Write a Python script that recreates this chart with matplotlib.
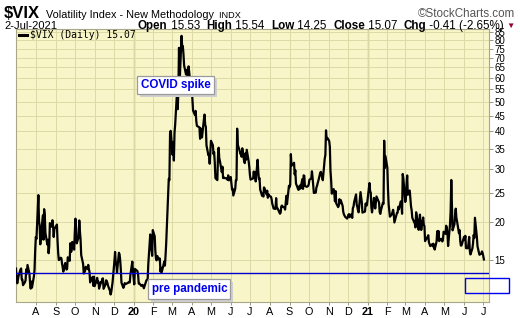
import matplotlib
matplotlib.use('Agg')
import matplotlib.pyplot as plt
from matplotlib.patches import Rectangle
import numpy as np
import pandas as pd

# $VIX daily closes, one list per month (Jul 2019 - Jul 2021)
jul19 = [14.06, 12.93, 12.57, 13.28, 13.96, 14.07, 12.93, 12.93, 12.39, 12.68, 12.86, 13.97, 13.53, 14.45, 13.53, 12.61, 12.07, 12.74, 12.16, 13.24, 13.94, 16.12]
aug19 = [17.87, 17.61, 24.59, 20.17, 19.49, 16.91, 17.97, 21.09, 17.52, 22.10, 21.18, 18.47, 16.88, 17.50, 15.80, 16.68, 19.87, 19.32, 20.31, 19.35, 17.88, 18.98]
sep19 = [19.66, 17.33, 15.82, 15.00, 15.27, 15.20, 14.61, 14.22, 13.74, 14.67, 14.44, 13.95, 14.05, 15.32, 14.91, 17.05, 15.96, 16.07, 17.22, 16.24]
oct19 = [18.56, 20.56, 19.12, 17.04, 17.86, 20.28, 18.64, 17.57, 15.58, 14.57, 13.54, 13.68, 13.79, 14.25, 14.00, 14.46, 14.01, 13.71, 12.65, 13.11, 13.20, 12.33, 13.22]
nov19 = [12.30, 12.83, 13.10, 12.62, 12.73, 12.07, 12.69, 12.68, 13.00, 13.05, 12.05, 12.46, 12.86, 12.78, 12.60, 12.34, 11.87, 11.54, 11.75, 12.62]
dec19 = [14.91, 15.96, 14.80, 14.52, 13.62, 15.86, 15.68, 14.99, 13.94, 12.63, 12.14, 12.29, 12.58, 12.50, 12.51, 12.61, 12.67, 12.65, 13.43, 14.82, 13.78]
jan20 = [12.47, 14.02, 13.85, 13.79, 13.45, 12.54, 12.56, 12.32, 12.39, 12.42, 12.32, 12.10, 12.85, 12.91, 12.98, 14.56, 18.23, 16.28, 16.39, 15.49, 18.84]
feb20 = [17.97, 16.05, 15.15, 14.96, 15.47, 15.04, 15.18, 13.74, 14.15, 13.68, 14.83, 14.38, 15.56, 17.08, 25.03, 27.85, 27.56, 39.16, 40.11]
mar20 = [33.42, 36.82, 31.99, 39.62, 41.94, 54.46, 47.30, 53.90, 75.47, 57.83, 82.69, 75.91, 76.45, 72.00, 66.04, 61.59, 61.67, 63.95, 61.00, 65.54, 57.08, 53.54]
apr20 = [57.06, 50.91, 46.80, 45.24, 46.70, 43.35, 41.67, 41.17, 37.76, 40.84, 40.11, 38.15, 43.83, 45.41, 41.98, 41.38, 35.93, 33.29, 33.57, 31.23, 34.15]
may20 = [37.19, 35.97, 33.61, 34.12, 31.44, 27.98, 27.57, 33.04, 35.28, 32.61, 31.89, 29.30, 30.53, 27.99, 28.16, 28.01, 27.91, 27.62, 28.59, 27.51]
jun20 = [28.23, 26.84, 25.66, 25.81, 24.52, 25.81, 27.57, 27.57, 40.79, 36.09, 34.40, 33.67, 33.47, 32.94, 35.12, 31.77, 31.37, 33.84, 32.22, 34.73, 31.78, 30.43]
jul20 = [28.62, 27.68, 27.94, 29.43, 28.08, 29.26, 27.29, 32.19, 29.52, 27.76, 28.00, 25.68, 24.46, 24.84, 24.32, 26.08, 25.84, 24.74, 25.44, 24.10, 24.76, 24.46]
aug20 = [24.28, 23.76, 22.99, 22.65, 22.21, 22.13, 24.03, 22.28, 22.28, 22.05, 21.35, 21.51, 22.54, 22.72, 22.54, 22.37, 22.03, 23.27, 24.47, 22.96, 26.41]
sep20 = [26.12, 26.57, 33.60, 30.75, 31.46, 28.81, 29.71, 26.87, 25.85, 25.59, 26.04, 26.46, 25.83, 27.78, 25.79, 28.58, 28.51, 26.38, 26.19, 26.27, 26.37]
oct20 = [26.70, 27.63, 27.96, 29.48, 28.06, 26.36, 25.00, 25.07, 26.07, 26.40, 26.97, 27.41, 29.18, 29.35, 28.65, 28.11, 27.55, 32.46, 33.35, 40.28, 37.59, 38.02]
nov20 = [37.13, 35.55, 29.57, 27.58, 24.86, 25.75, 24.80, 23.45, 25.35, 23.10, 22.45, 22.71, 23.84, 23.11, 23.70, 22.66, 21.64, 21.25, 20.84, 20.57]
dec20 = [20.77, 21.17, 21.28, 20.79, 21.30, 20.68, 22.27, 22.52, 23.31, 24.72, 22.89, 22.50, 21.93, 21.57, 25.16, 24.23, 23.31, 21.53, 21.70, 23.08, 22.77, 22.75]
jan21 = [26.97, 25.34, 25.07, 22.37, 21.56, 24.08, 23.33, 22.21, 23.25, 24.34, 23.24, 21.58, 21.32, 21.91, 23.19, 23.02, 37.21, 30.21, 33.09]
feb21 = [30.24, 25.56, 22.91, 21.77, 20.87, 21.24, 21.63, 21.99, 21.25, 19.97, 21.46, 21.50, 22.49, 22.05, 23.45, 23.11, 21.34, 28.89, 27.95]
mar21 = [23.35, 24.10, 26.67, 28.57, 24.66, 25.47, 24.03, 22.56, 21.91, 20.69, 20.03, 19.79, 19.23, 21.58, 20.95, 18.88, 20.30, 21.20, 19.81, 18.86, 20.74, 19.61, 19.40]
apr21 = [17.33, 17.91, 18.12, 17.16, 16.95, 16.69, 16.91, 16.65, 16.99, 16.57, 16.25, 17.29, 18.68, 17.50, 18.71, 17.33, 17.64, 17.56, 17.28, 17.61, 18.61]
may21 = [18.31, 19.48, 19.15, 18.39, 16.69, 19.66, 21.84, 27.59, 23.13, 18.81, 19.72, 21.34, 22.18, 20.67, 20.15, 18.40, 18.84, 17.36, 16.74, 16.76]
jun21 = [17.90, 17.48, 18.04, 16.42, 16.42, 17.07, 17.89, 16.10, 15.65, 16.39, 17.02, 18.15, 17.75, 20.70, 17.89, 16.66, 16.32, 15.97, 15.62, 15.76, 16.02, 15.83]
jul21 = [15.48, 15.07]

months = ['2019-07', '2019-08', '2019-09', '2019-10', '2019-11', '2019-12',
          '2020-01', '2020-02', '2020-03', '2020-04', '2020-05', '2020-06',
          '2020-07', '2020-08', '2020-09', '2020-10', '2020-11', '2020-12',
          '2021-01', '2021-02', '2021-03', '2021-04', '2021-05', '2021-06', '2021-07']
monthly = [jul19, aug19, sep19, oct19, nov19, dec19, jan20, feb20, mar20, apr20, may20, jun20,
           jul20, aug20, sep20, oct20, nov20, dec20, jan21, feb21, mar21, apr21, may21, jun21, jul21]
holidays = ['2019-07-04', '2019-09-02', '2019-11-28', '2019-12-25', '2020-01-01', '2020-01-20',
            '2020-02-17', '2020-04-10', '2020-05-25', '2020-07-03', '2020-09-07', '2020-11-26',
            '2020-12-25', '2021-01-01', '2021-01-18', '2021-02-15', '2021-04-02', '2021-05-31']

y_ticks = [15, 20, 25, 30, 35, 40, 45, 50, 55, 60, 65, 70, 75, 80, 85]
pre_pandemic_level = 13.55

dates, close = [], []
for m, vals in zip(months, monthly):
    start = pd.Timestamp(m + '-01')
    days = [d for d in pd.bdate_range(start, start + pd.offsets.MonthEnd(0))
            if d.strftime('%Y-%m-%d') not in holidays]
    n = min(len(days), len(vals))
    dates += days[:n]
    close += vals[:n]

bg = '#f8f6c8'
grid_c = '#dcdaa6'
year_c = '#b8b68a'

plt.rcParams['font.family'] = ['Liberation Sans', 'DejaVu Sans']

fig = plt.figure(figsize=(5.2, 3.18), dpi=100)
fig.patch.set_facecolor('white')
ax = fig.add_axes([16/520, 16/318, 473/520, 273/318])
ax.set_facecolor(bg)

ax.plot(dates, close, color='black', lw=1.6, zorder=3)
ax.axhline(pre_pandemic_level, color='#0000cc', lw=1.0, zorder=4)

ax.set_yscale('log')
ax.set_ylim(10.9, 87.1)
ax.set_xlim(pd.Timestamp('2019-07-01'), pd.Timestamp('2021-07-10'))

ax.yaxis.tick_right()
ax.set_yticks(y_ticks)
ax.set_yticklabels([str(t) for t in y_ticks])
ax.yaxis.set_minor_locator(matplotlib.ticker.NullLocator())
ax.tick_params(axis='y', which='major', length=3, width=0.6, color='#888866', pad=1, labelsize=7.0)

month_ticks = pd.date_range('2019-08-01', '2021-07-01', freq='MS')
ax.set_xticks(month_ticks)
ax.set_xticklabels([d.strftime('%y') if d.month == 1 else d.strftime('%b')[0] for d in month_ticks])
ax.tick_params(axis='x', length=2, width=0.6, color='#888866', pad=1.5, labelsize=7.8)
for lab in ax.get_xticklabels():
    if lab.get_text() in ('20', '21'):
        lab.set_fontweight('bold')

ax.grid(True, color=grid_c, lw=0.7, zorder=1)
for yr in ['2020-01-01', '2021-01-01']:
    ax.axvline(pd.Timestamp(yr), color=year_c, lw=1.0, zorder=1)
for sp in ax.spines.values():
    sp.set_color('#a8a888')
    sp.set_linewidth(0.8)

# legend line
ax.plot([0.006, 0.024], [0.978, 0.978], transform=ax.transAxes, color='black', lw=2.2, zorder=5)
ax.text(0.029, 0.978, '$VIX (Daily) 15.07', transform=ax.transAxes, fontsize=7.0,
        family='DejaVu Sans Mono', va='center', ha='left', zorder=5)

# annotations with a light drop shadow
def note(x0, y0, w, h, s):
    fig.patches.append(Rectangle(((x0 + 3)/520, 1 - (y0 + h + 3)/318), w/520, h/318,
                                 transform=fig.transFigure, fc='#cfcfcf', ec='none', zorder=8))
    fig.patches.append(Rectangle((x0/520, 1 - (y0 + h)/318), w/520, h/318,
                                 transform=fig.transFigure, fc='white', ec='#9a9a9a', lw=0.9, zorder=9))
    fig.text((x0 + 4)/520, 1 - (y0 + h/2)/318, s, color='#0000ee', fontsize=8.4, fontweight='bold',
             ha='left', va='center', zorder=10)

note(137, 76, 77, 18, 'COVID spike')
note(148, 279, 82, 20, 'pre pandemic')

# empty price box for the horizontal line
fig.patches.append(Rectangle((465/520, 1 - 293/318), 44/520, 15/318, transform=fig.transFigure,
                             fc='none', ec='#0000ee', lw=1.0, zorder=10))

r = fig.canvas.get_renderer()

# header, first row laid out left to right
x = 4
for s, size, w in [('$VIX', 12, 'bold'), ('  Volatility Index - New Methodology', 7.8, 'normal'),
                   ('  INDX', 6.6, 'normal')]:
    t = fig.text(x/520, 1 - 18/318, s, fontsize=size, fontweight=w, va='baseline')
    x += t.get_window_extent(renderer=r).width
fig.text(515/520, 1 - 17/318, '\u00a9StockCharts.com', fontsize=8.4, color='#555555', ha='right', va='baseline')
fig.text(4/520, 1 - 29/318, '2-Jul-2021', fontsize=8, va='baseline')

# second row, laid out right to left
parts = [('Open', 'bold'), (' 15.53  ', 'normal'), ('High', 'bold'), (' 15.54  ', 'normal'),
         ('Low', 'bold'), (' 14.25  ', 'normal'), ('Close', 'bold'), (' 15.07  ', 'normal'),
         ('Chg', 'bold'), (' -0.41 (-2.65%)', 'normal')]
x = 504
for s, w in reversed(parts):
    t = fig.text(x/520, 1 - 29/318, s, fontsize=8.4, fontweight=w, ha='right', va='baseline')
    x -= t.get_window_extent(renderer=r).width
fig.text(510/520, 1 - 26/318, '\u25bc', fontsize=6, color='#990033', ha='center', va='center')

fig.savefig('out.png', dpi=100)
